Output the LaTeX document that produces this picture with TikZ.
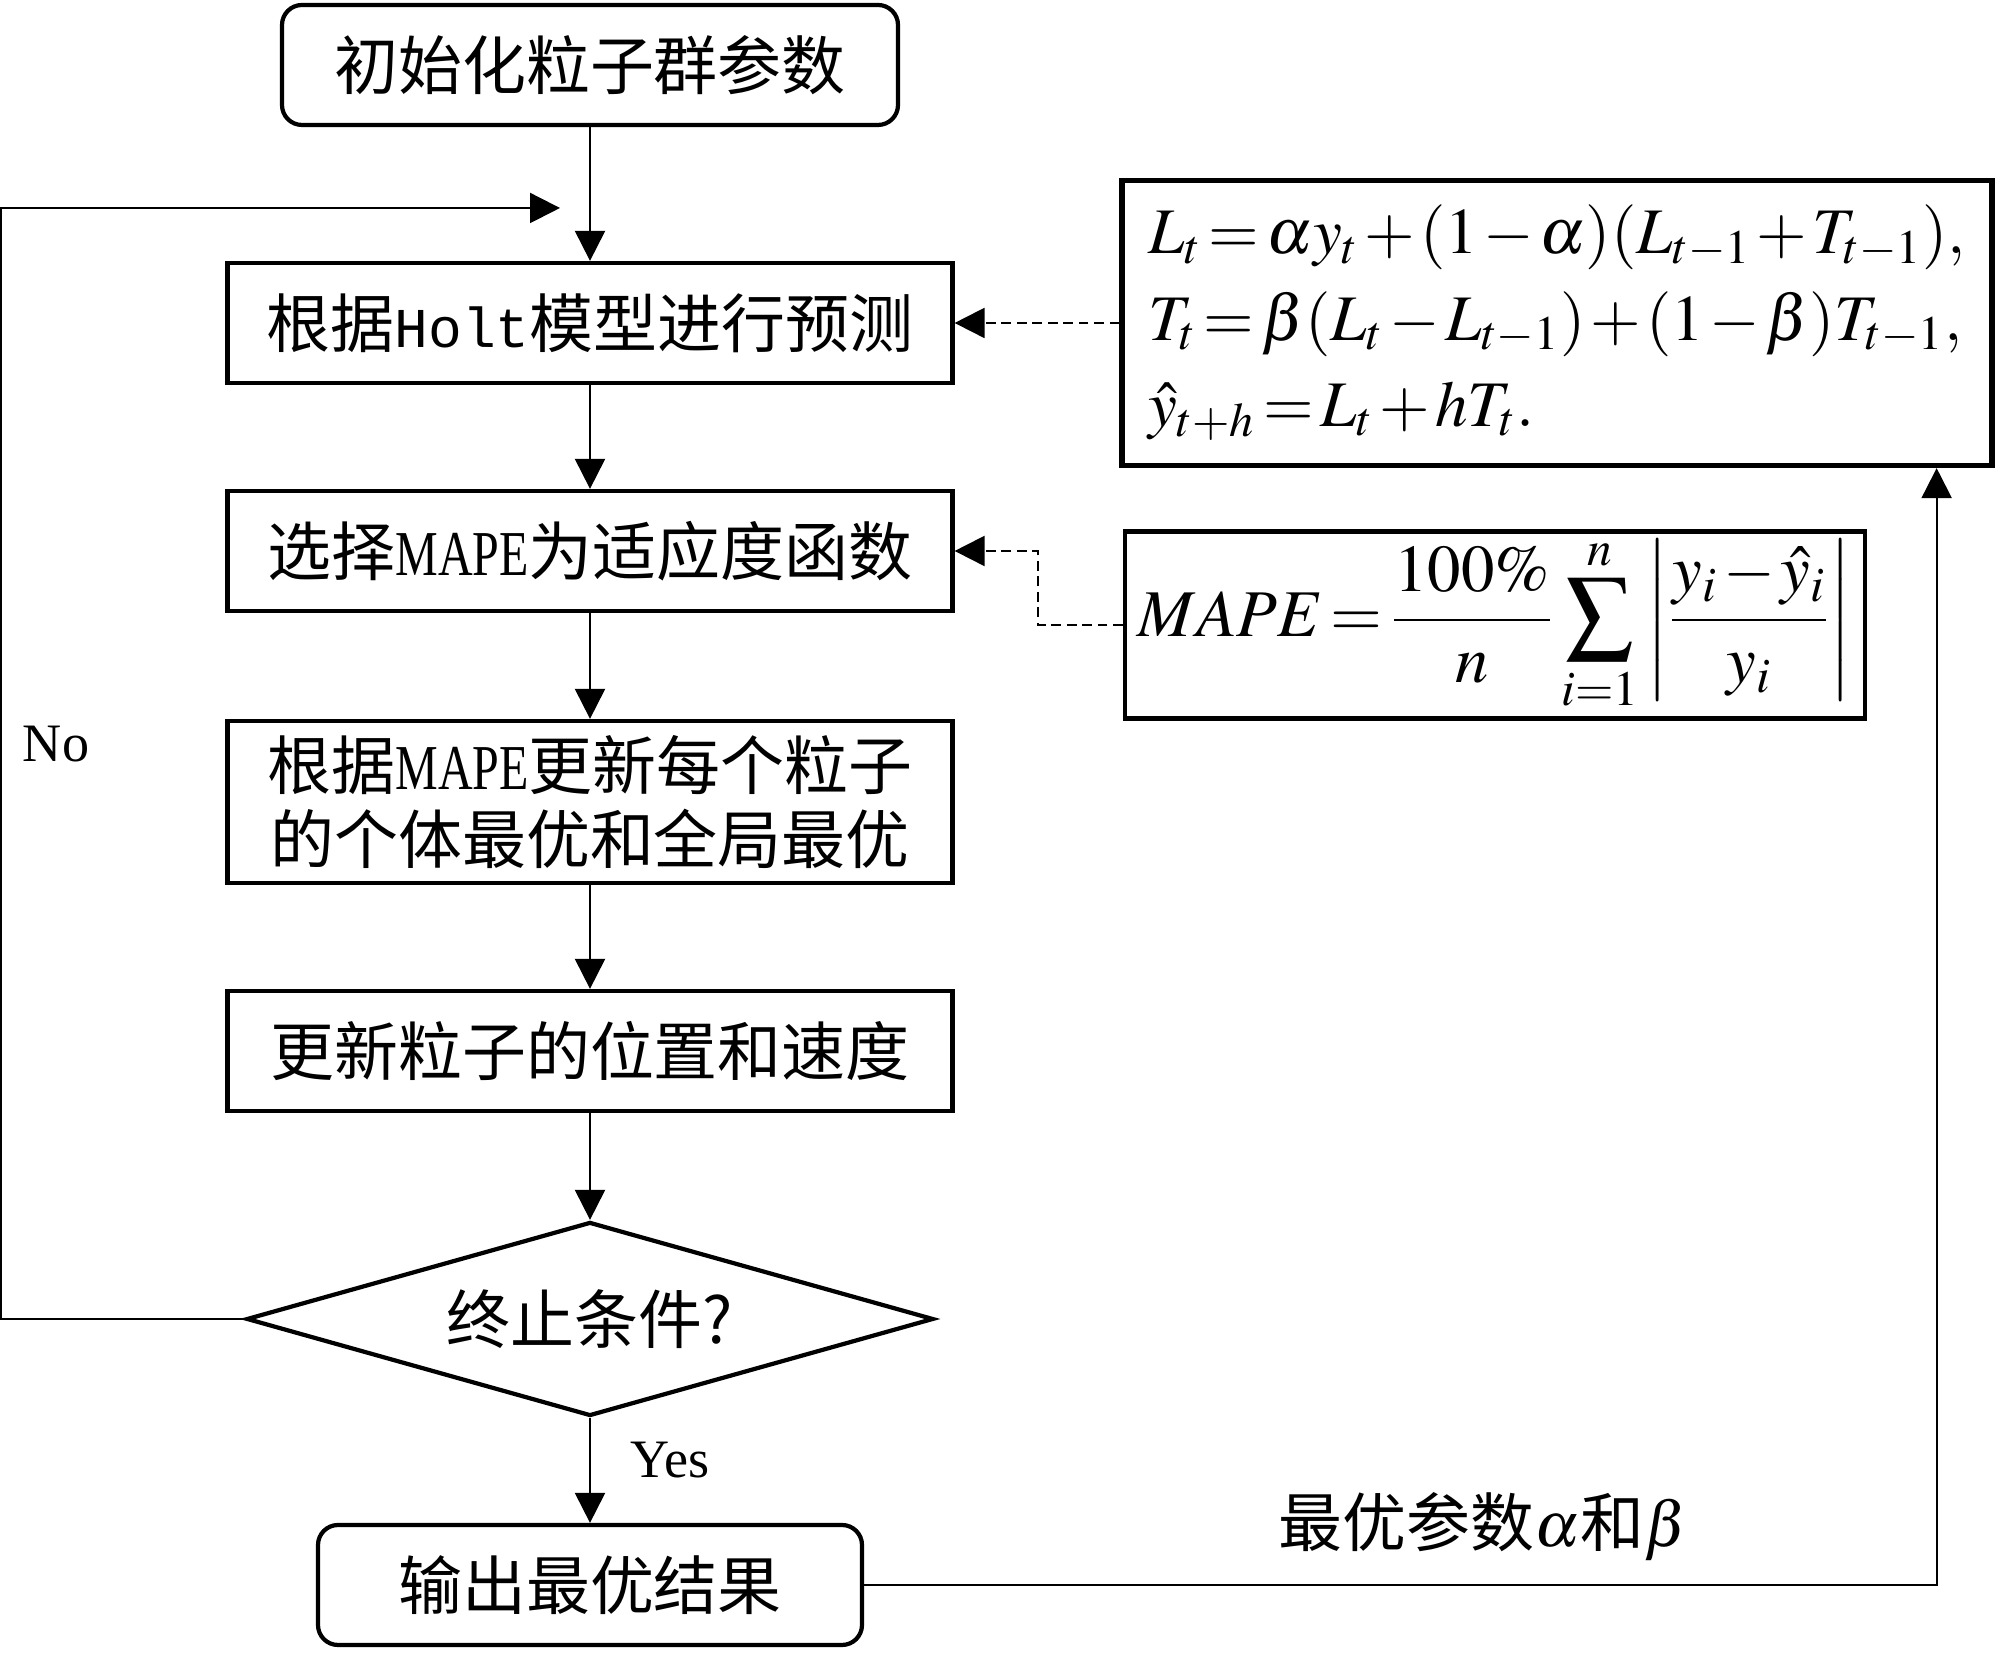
\documentclass[tikz,border=0pt]{standalone}
\usepackage{mathptmx}
\usepackage{fontspec}
\setmainfont{Liberation Serif}
\newfontfamily\cjk{Noto Sans CJK SC}
\newfontfamily\holtfont{Liberation Mono}
\newcommand\tightmath{\thickmuskip=2mu\relax\medmuskip=1.5mu\relax}
\usetikzlibrary{arrows.meta, shapes.geometric, positioning, calc}

\begin{document}
\begin{tikzpicture}[
        >={Triangle[length=0.3cm,width=0.3cm]},
        stepbox/.style={draw, line width=1.2pt, minimum width=7.25cm, minimum height=1.2cm, inner sep=0pt, align=center, font=\cjk\fontsize{18.2}{21}\selectfont},
        roundbox/.style={stepbox, rounded corners=0.2cm},
        decision/.style={diamond, draw, line width=1.2pt, aspect=3.5, minimum width=6.87cm, minimum height=1.94cm, inner sep=0pt, font=\cjk\fontsize{18.2}{21}\selectfont},
        formula/.style={draw, inner sep=0pt, align=left, font=\fontsize{18.5}{24.5}\selectfont\tightmath},
        flow/.style={->, line width=0.6pt},
        hint/.style={->, line width=0.6pt, dash pattern=on 2.8pt off 1.6pt}
    ]
        \useasboundingbox (0,0) rectangle (20,16.6);
        
        % main column
        \node[roundbox, minimum width=6.16cm] (init) at (5.9,15.95) {初始化粒子群参数};
        \node[stepbox] (holt) at (5.9,13.37) {根据{\holtfont\fontsize{16}{21}\selectfont Holt}模型进行预测};
        \node[stepbox] (mape) at (5.9,11.09) {选择{\rmfamily\scalebox{0.75}[1]{MAPE}}为适应度函数};
        \node[stepbox, minimum height=1.62cm] (upd) at (5.9,8.58) {根据{\rmfamily\scalebox{0.75}[1]{MAPE}}更新每个粒子\\的个体最优和全局最优};
        \node[stepbox] (pos) at (5.9,6.09) {更新粒子的位置和速度};
        \node[decision] (stop) at (5.9,3.41) {终止条件?};
        \node[roundbox, minimum width=5.44cm] (out) at (5.9,0.75) {输出最优结果};
        
        % formulas
        \node[formula, line width=1.5pt, minimum width=8.7cm, minimum height=2.85cm] (holtf) at (15.57,13.37)
            {$L_t = \alpha y_t + (1-\alpha)(L_{t-1} + T_{t-1}),$\\
             $T_t = \beta(L_t - L_{t-1}) + (1-\beta)T_{t-1},$\\
             $\hat{y}_{t+h} = L_t + hT_t.$};
        \node[formula, line width=1.2pt, minimum width=7.4cm, minimum height=1.87cm, font=\fontsize{19}{24.5}\selectfont\tightmath] (mapef) at (14.95,10.35)
            {$\displaystyle MAPE = \frac{100\%}{n}\sum_{i=1}^{n}\left|\frac{y_i-\hat{y}_i}{y_i}\right|$};
        
        \draw[flow] (init) -- (holt);
        \draw[flow] (holt) -- (mape);
        \draw[flow] (mape) -- (upd);
        \draw[flow] (upd) -- (pos);
        \draw[flow] (pos) -- (stop);
        \draw[flow] (stop) -- (out);
        
        % loop back
        \coordinate (loopin) at (5.6,14.52);
        \draw[flow] (stop.west) -- ++(-2.43,0) |- (loopin);
        \node[font=\fontsize{15.4}{18}\selectfont] (no) at (0.56,9.16) {No};
        \node[font=\fontsize{15.4}{18}\selectfont] (yes) at (6.7,2.0) {Yes};
        
        \draw[hint] (holtf.west) -- (holt.east);
        \draw[hint] (mapef.west) -- ++(-0.85,0) |- (mape.east);
        
        \draw[flow] (out.east) -| ([xshift=-0.58cm]holtf.south east);
        \node[font=\fontsize{18.2}{21}\selectfont] (best) at (14.83,1.33) {{\cjk 最优参数}$\alpha${\cjk 和}$\beta$};
        
        \end{tikzpicture}
\end{document}
